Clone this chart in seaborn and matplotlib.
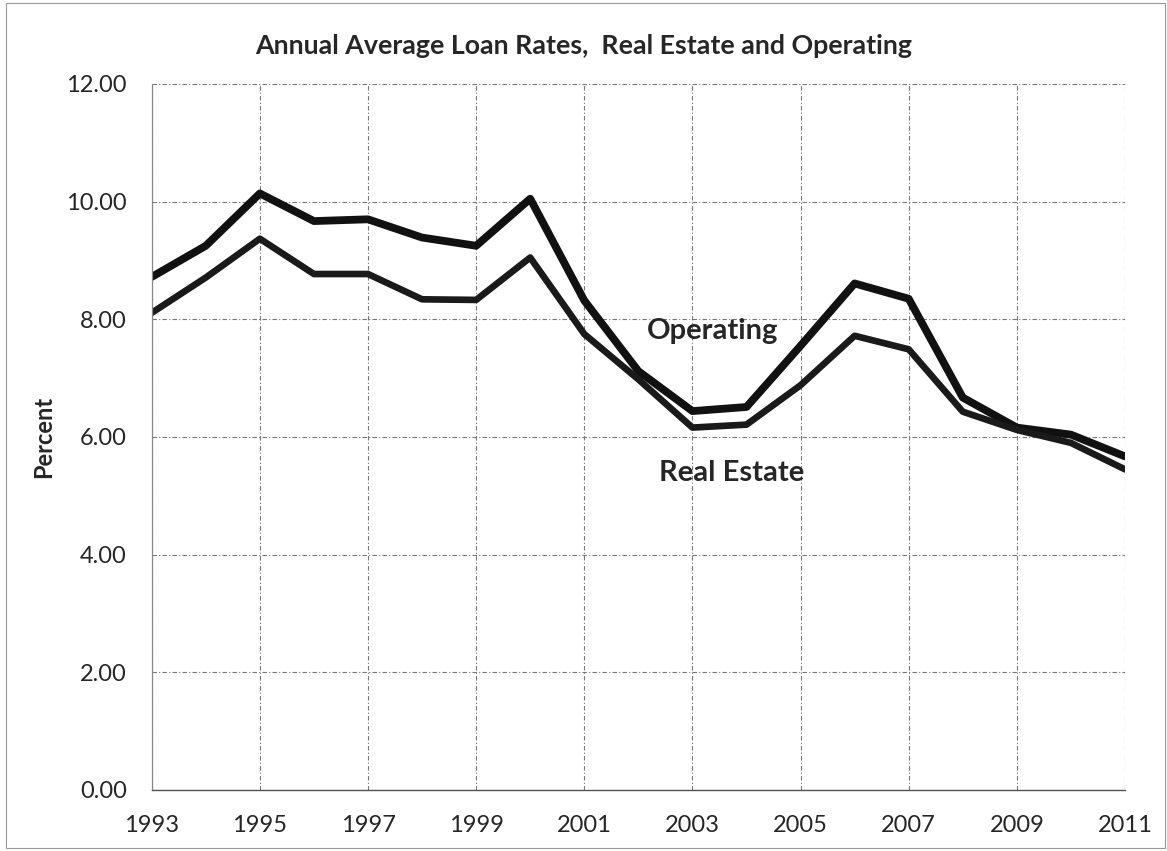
import numpy as np
import pandas as pd
import matplotlib
matplotlib.use("Agg")
import matplotlib.pyplot as plt
import seaborn as sns
from matplotlib.patches import Rectangle

years = list(range(1993, 2012))
operating = [8.72, 9.25, 10.14, 9.67, 9.70, 9.39, 9.25, 10.05, 8.32, 7.12,
             6.44, 6.51, 7.55, 8.61, 8.35, 6.67, 6.16, 6.04, 5.67]
real_estate = [8.11, 8.71, 9.37, 8.77, 8.77, 8.34, 8.33, 9.05, 7.75, 6.98,
               6.16, 6.21, 6.88, 7.72, 7.49, 6.43, 6.12, 5.90, 5.45]
x_ticks = list(range(1993, 2012, 2))
y_ticks = [0, 2, 4, 6, 8, 10, 12]
title = "Annual Average Loan Rates,  Real Estate and Operating"

sns.set_theme(style="white")
plt.rcParams['font.family'] = ['Lato', 'DejaVu Sans']

df_op = pd.DataFrame({"Year": years, "Percent": operating})
df_re = pd.DataFrame({"Year": years, "Percent": real_estate})

fig = plt.figure(figsize=(11.67, 8.51), dpi=100)
ax = fig.add_axes([0.130, 0.0717, 0.834, 0.8296])

sns.lineplot(data=df_op, x="Year", y="Percent", ax=ax, color="#111111", linewidth=5.6)
sns.lineplot(data=df_re, x="Year", y="Percent", ax=ax, color="#1a1a1a", linewidth=4.8)

ax.set_xlim(1993, 2011)
ax.set_ylim(0, 12)
ax.set_xticks(x_ticks)
ax.set_xticklabels([str(y) for y in x_ticks], fontsize=17)
ax.set_yticks(y_ticks)
ax.set_yticklabels([f"{v:.2f}" for v in y_ticks], fontsize=17)
ax.tick_params(axis="y", length=0, pad=18)
ax.tick_params(axis="x", length=0, pad=18)
ax.grid(True, color="#777777", linestyle=(0, (4, 2, 1, 2)), linewidth=0.8)
for s in ["top", "right"]:
    ax.spines[s].set_visible(False)
ax.spines["left"].set_color("#888888")
ax.spines["left"].set_linewidth(0.9)
ax.spines["bottom"].set_color("#555555")
ax.spines["bottom"].set_linewidth(1.0)

ax.set_xlabel("")
ax.set_ylabel("Percent", fontsize=17, fontweight="bold", labelpad=8)

ax.text(2003.38, 7.66, "Operating", fontsize=21, fontweight="bold", ha="center", va="baseline")
ax.text(2003.72, 5.26, "Real Estate", fontsize=21, fontweight="bold", ha="center", va="baseline")

fig.text(0.5, 0.946, title, fontsize=19.3, fontweight="bold", ha="center", va="center")

fig.patches.append(Rectangle((0.005, 0.003), 0.993, 0.994, transform=fig.transFigure,
                             fill=False, edgecolor="#999999", linewidth=0.8))

fig.savefig("out.png", dpi=100)
